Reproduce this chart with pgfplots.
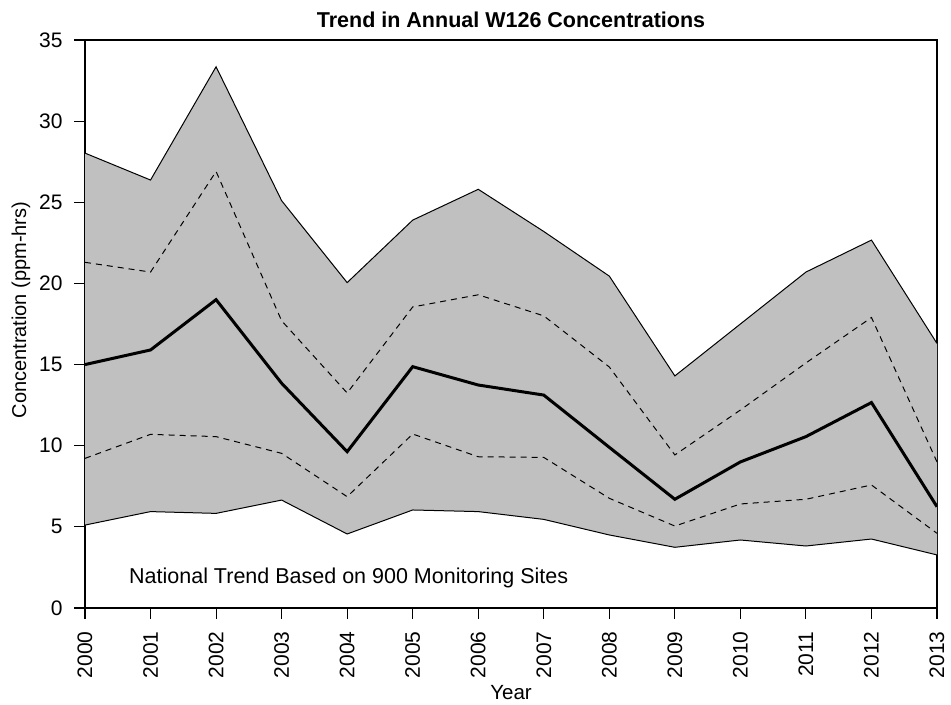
\documentclass[border=0pt]{standalone}
\usepackage{fontspec}
\setmainfont{Liberation Sans}
\usepackage{pgfplots}
\pgfplotsset{compat=1.18}
\usetikzlibrary{calc}
\definecolor{bandgray}{RGB}{192,192,192}
\begin{document}
\begin{tikzpicture}
\begin{axis}[
  scale only axis,
  width=852pt, height=568pt,
  xmin=2000, xmax=2013, ymin=0, ymax=35,
  xtick={2000,2001,...,2013},
  ytick={0,5,...,35},
  xtick pos=bottom, ytick pos=left,
  tick align=outside,
  major tick length=11pt,
  xticklabel shift=9pt, yticklabel shift=8pt,
  axis line style={line width=1.1pt},
  every tick/.style={black, line width=1.1pt},
  /pgf/number format/assume math mode=true,
  /pgf/number format/set thousands separator={},
  tick label style={font=\fontsize{21pt}{24pt}\selectfont},
  x tick label style={rotate=90, anchor=east},
  xlabel={Year},
  ylabel={Concentration (ppm-hrs)},
  every axis x label/.style={at={(axis description cs:0.5,-0.1496)}, anchor=center, font=\fontsize{20.5pt}{24pt}\selectfont},
  every axis y label/.style={at={(axis description cs:-0.0751,0.5246)}, rotate=90, anchor=center, font=\fontsize{20pt}{24pt}\selectfont},
  title={\textbf{Trend in Annual W126 Concentrations}},
  every axis title/.style={at={(axis description cs:0.5,1.0352)}, anchor=center, font=\fontsize{21.5pt}{25pt}\selectfont},
  clip=true,
]
% shaded band between min and max
\addplot[fill=bandgray, draw=none] coordinates {
 (2000,28.03) (2001,26.37) (2002,33.35) (2003,25.1) (2004,20.05) (2005,23.9) (2006,25.8)
 (2007,23.2) (2008,20.45) (2009,14.3) (2010,17.5) (2011,20.7) (2012,22.67) (2013,16.3)
 (2013,3.27) (2012,4.25) (2011,3.82) (2010,4.19) (2009,3.74) (2008,4.5) (2007,5.46)
 (2006,5.94) (2005,6.04) (2004,4.56) (2003,6.65) (2002,5.83) (2001,5.94) (2000,5.11)
} -- cycle;
% max
\addplot[black, line width=1pt] coordinates {
 (2000,28.03) (2001,26.37) (2002,33.35) (2003,25.1) (2004,20.05) (2005,23.9) (2006,25.8)
 (2007,23.2) (2008,20.45) (2009,14.3) (2010,17.5) (2011,20.7) (2012,22.67) (2013,16.3)
};
% min
\addplot[black, line width=1pt] coordinates {
 (2000,5.11) (2001,5.94) (2002,5.83) (2003,6.65) (2004,4.56) (2005,6.04) (2006,5.94)
 (2007,5.46) (2008,4.5) (2009,3.74) (2010,4.19) (2011,3.82) (2012,4.25) (2013,3.27)
};
% 75th percentile
\addplot[black, line width=1pt, dash pattern=on 6pt off 5pt] coordinates {
 (2000,21.3) (2001,20.7) (2002,26.9) (2003,17.7) (2004,13.25) (2005,18.55) (2006,19.3)
 (2007,18.0) (2008,14.85) (2009,9.43) (2010,12.2) (2011,15.1) (2012,17.9) (2013,9.0)
};
% 25th percentile
\addplot[black, line width=1pt, dash pattern=on 6pt off 5pt] coordinates {
 (2000,9.22) (2001,10.7) (2002,10.56) (2003,9.53) (2004,6.86) (2005,10.72) (2006,9.32)
 (2007,9.28) (2008,6.76) (2009,5.05) (2010,6.41) (2011,6.7) (2012,7.58) (2013,4.6)
};
% median
\addplot[black, line width=3pt] coordinates {
 (2000,15.0) (2001,15.9) (2002,19.0) (2003,13.85) (2004,9.63) (2005,14.87) (2006,13.74)
 (2007,13.12) (2008,9.9) (2009,6.7) (2010,9.0) (2011,10.56) (2012,12.66) (2013,6.24)
};
\node[anchor=west, font=\fontsize{21.5pt}{25pt}\selectfont] at (axis cs:2000.62,1.85) {National Trend Based on 900 Monitoring Sites};
\end{axis}
\pgfresetboundingbox
\path ($(current axis.south west)+(-85pt,-97pt)$) rectangle ($(current axis.north east)+(14pt,40pt)$);
\end{tikzpicture}
\end{document}
